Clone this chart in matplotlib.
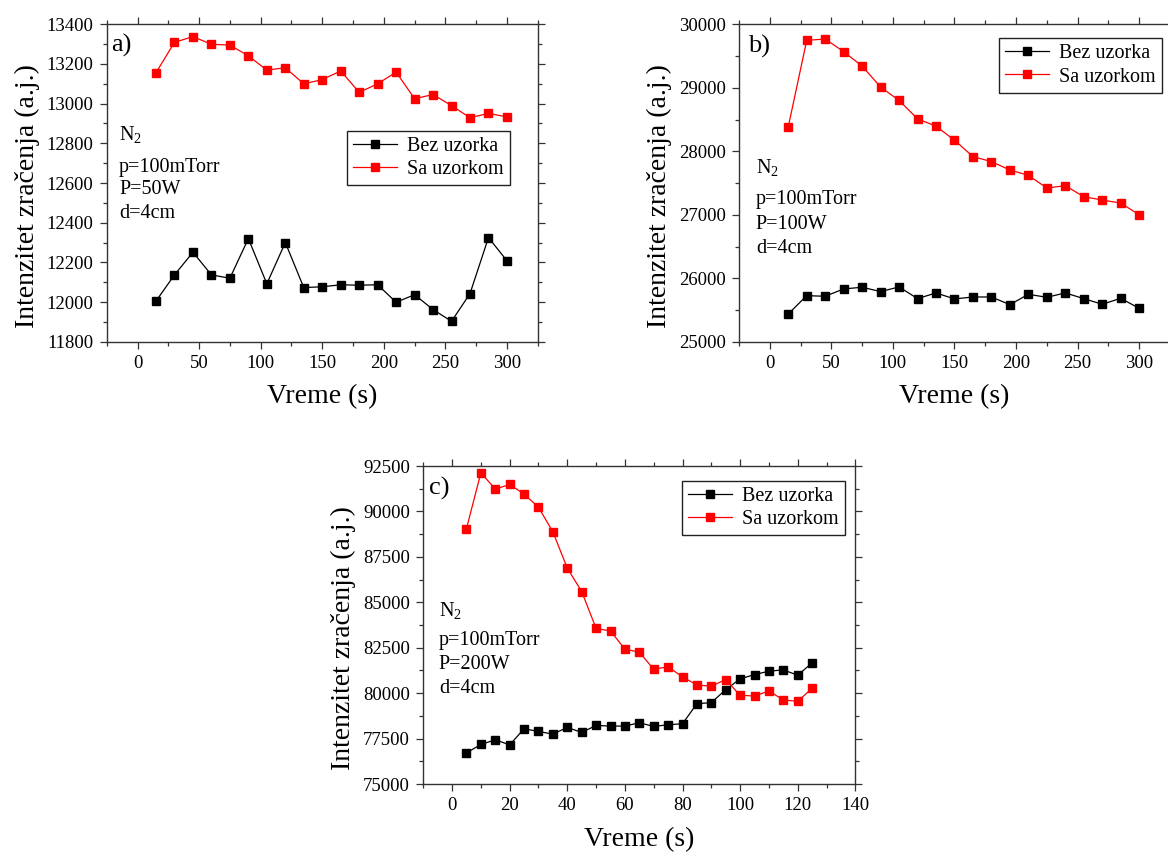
import matplotlib
matplotlib.use("Agg")
import matplotlib.pyplot as plt
from matplotlib.ticker import MultipleLocator

plt.rcParams['font.family'] = ['Liberation Serif', 'DejaVu Serif']
plt.rcParams['mathtext.fontset'] = 'custom'
plt.rcParams['mathtext.rm'] = 'Liberation Serif'
plt.rcParams['mathtext.it'] = 'Liberation Serif:italic'

# ---- data ----
time_ab = [15, 30, 45, 60, 75, 90, 105, 120, 135, 150, 165, 180, 195, 210, 225,
           240, 255, 270, 285, 300]
a_bez = [12005, 12137, 12251, 12137, 12120, 12320, 12092, 12300, 12073, 12077,
         12087, 12085, 12087, 11999, 12037, 11962, 11903, 12043, 12325, 12208]
a_sa = [13156, 13309, 13338, 13299, 13295, 13241, 13169, 13181, 13100, 13121,
        13165, 13057, 13100, 13159, 13025, 13046, 12990, 12929, 12951, 12933]

b_bez = [25437, 25726, 25716, 25832, 25858, 25790, 25863, 25679, 25769, 25674,
         25705, 25705, 25584, 25747, 25700, 25769, 25679, 25590, 25684, 25526]
b_sa = [28384, 29747, 29768, 29568, 29342, 29011, 28800, 28511, 28395, 28174,
        27916, 27837, 27705, 27621, 27421, 27458, 27284, 27232, 27184, 27000]

time_c = [5, 10, 15, 20, 25, 30, 35, 40, 45, 50, 55, 60, 65, 70, 75, 80, 85,
          90, 95, 100, 105, 110, 115, 120, 125]
c_bez = [76714, 77175, 77432, 77156, 78040, 77893, 77746, 78114, 77838, 78224,
         78188, 78188, 78372, 78169, 78261, 78317, 79422, 79477, 80195, 80785,
         81024, 81209, 81282, 80987, 81669]
c_sa = [89055, 92132, 91229, 91487, 90953, 90234, 88871, 86882, 85592, 83566,
        83419, 82424, 82258, 81319, 81448, 80895, 80453, 80380, 80748, 79882,
        79845, 80122, 79624, 79551, 80269]

labels = ["Bez uzorka", "Sa uzorkom"]
xlabel = "Vreme (s)"
ylabel = "Intenzitet zračenja (a.j.)"
cond_lines = ["N$_2$", "p=100mTorr", None, "d=4cm"]
powers = ["P=50W", "P=100W", "P=200W"]

fig = plt.figure(figsize=(11.68, 8.52), dpi=100)

W = 0.369
H = 0.3726
ax_a = fig.add_axes([0.0914, 0.5989, W, H])
ax_b = fig.add_axes([0.6327, 0.5989, W, H])
ax_c = fig.add_axes([0.3624, 0.0798, 0.3699, 0.3732])

panels = [
    (ax_a, time_ab, a_bez, a_sa, (-25, 325), (11800, 13400), 50, 25, 200, 100,
     "a)", (0.009, 0.97), powers[0], 0.0285, [0.6355, 0.5356, 0.4643, 0.3887],
     (0.936, 0.665)),
    (ax_b, time_ab, b_bez, b_sa, (-25, 325), (25000, 30000), 50, 25, 1000, 500,
     "b)", (0.022, 0.966), powers[1], 0.039, [0.5306, 0.4330, 0.3564, 0.2798],
     (0.981, 0.956)),
    (ax_c, time_c, c_bez, c_sa, (-10, 140), (75000, 92500), 20, 10, 2500, 1250,
     "c)", (0.013, 0.966), powers[2], 0.036, [0.528, 0.437, 0.361, 0.285],
     (0.976, 0.954)),
]

for (ax, t, bez, sa, xl, yl, xmaj, xmin, ymaj, ymin, plab, plpos, ptxt,
     tx, tys, legpos) in panels:
    ax.plot(t, bez, color='black', marker='s', markersize=5.2, linewidth=0.9,
            label=labels[0])
    ax.plot(t, sa, color='#ff0000', marker='s', markersize=5.2, linewidth=0.9,
            label=labels[1])
    ax.set_xlim(*xl)
    ax.set_ylim(*yl)
    ax.xaxis.set_major_locator(MultipleLocator(xmaj))
    ax.xaxis.set_minor_locator(MultipleLocator(xmin))
    ax.yaxis.set_major_locator(MultipleLocator(ymaj))
    ax.yaxis.set_minor_locator(MultipleLocator(ymin))
    ax.tick_params(which='both', direction='out', top=True, right=True,
                   labelsize=13.5, width=0.9, color='#333333')
    ax.tick_params(which='major', length=5, pad=4.5)
    ax.tick_params(which='minor', length=3)
    for s in ax.spines.values():
        s.set_linewidth(1.0)
        s.set_color('#333333')
    ax.set_xlabel(xlabel, fontsize=20)
    ax.set_ylabel(ylabel, fontsize=20)
    ax.yaxis.set_label_coords(-0.155, 0.46)
    ax.xaxis.set_label_coords(0.5, -0.135)
    ax.text(plpos[0], plpos[1], plab, transform=ax.transAxes, fontsize=19,
            ha='left', va='top')
    for line, ty in zip(cond_lines, tys):
        txt = ptxt if line is None else line
        ax.text(tx, ty, txt, transform=ax.transAxes, fontsize=14.5,
                ha='left', va='baseline')
    leg = ax.legend(loc='upper right', bbox_to_anchor=legpos, borderaxespad=0,
                    fontsize=14.5, fancybox=False, edgecolor='#222222',
                    framealpha=1, handlelength=2.2, labelspacing=0.2,
                    borderpad=0.3, handletextpad=0.5)
    leg.get_frame().set_linewidth(1.0)

fig.savefig("out.png", dpi=100)
